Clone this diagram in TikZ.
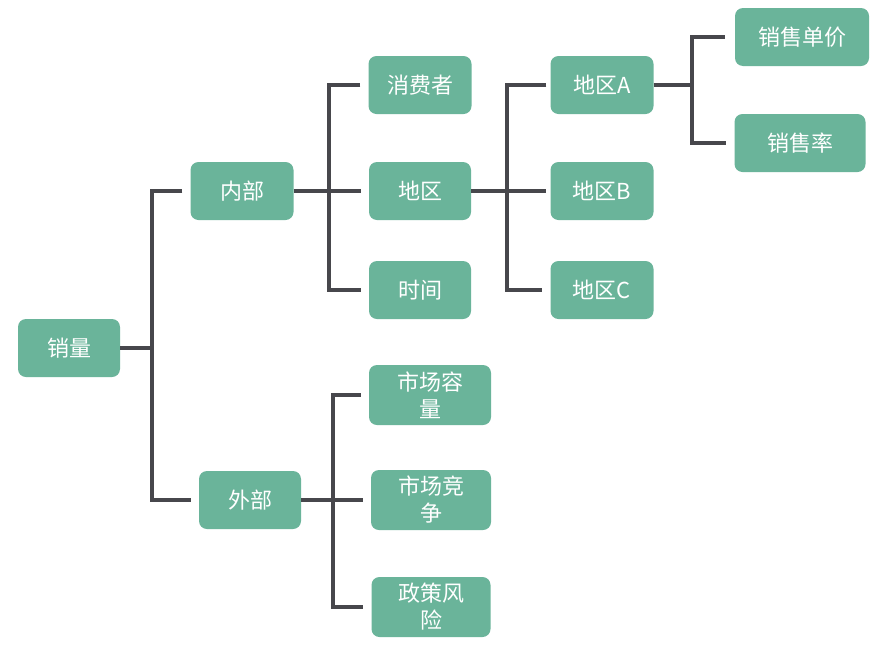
\documentclass[tikz,border=0pt]{standalone}
\usepackage{fontspec}
\newfontfamily\cjk{Noto Sans CJK SC}
\definecolor{nodegreen}{HTML}{6AB49A}
\definecolor{linegray}{HTML}{47474C}
\tikzset{
  box/.style={fill=nodegreen, rounded corners=8pt, text=white, font=\cjk\fontsize{22}{27}\selectfont,
    minimum height=58pt, inner sep=0pt, align=center},
  conn/.style={draw=linegray, line width=4pt, shorten >=8pt},
}
\begin{document}
\begin{tikzpicture}[x=1pt,y=-1pt]
\useasboundingbox[fill=white] (0,0) rectangle (887,646);
% nodes
\node[box, minimum width=102pt] (xl) at (69,348) {销量};
\node[box, minimum width=103pt] (nb) at (242,191) {内部};
\node[box, minimum width=102pt] (wb) at (250,500) {外部};
\node[box, minimum width=103pt] (xfz) at (420,85) {消费者};
\node[box, minimum width=102pt] (dq) at (420,191) {地区};
\node[box, minimum width=102pt] (sj) at (420,290) {时间};
\node[box, minimum width=122pt, minimum height=60pt] (scrl) at (430,395) {市场容\\量};
\node[box, minimum width=120pt, minimum height=60pt] (scjz) at (431,500) {市场竞\\争};
\node[box, minimum width=119pt, minimum height=60pt] (zcfx) at (431,607) {政策风\\险};
\node[box, minimum width=103pt] (dqa) at (602,85) {地区A};
\node[box, minimum width=103pt] (dqb) at (602,191) {地区B};
\node[box, minimum width=103pt] (dqc) at (602,290) {地区C};
\node[box, minimum width=134pt] (xsdj) at (802,37) {销售单价};
\node[box, minimum width=131pt] (xsl) at (800,143) {销售率};
% bus coordinates
\coordinate (b1) at (152,348);
\coordinate (b2) at (329,191);
\coordinate (b3) at (333,500);
\coordinate (b4) at (507,191);
\coordinate (b5) at (692,85);
% connectors
\draw[conn, shorten >=0pt] (xl.east) -- (b1);
\draw[conn, shorten <=8pt] (nb.west) -| (b1) |- (wb.west);
\draw[conn, shorten >=0pt] (nb.east) -- (b2);
\draw[conn, shorten <=8pt] (xfz.west) -| (b2) |- (sj.west);
\draw[conn] (b2) -- (dq.west);
\draw[conn, shorten >=0pt] (wb.east) -- (b3);
\draw[conn, shorten <=8pt] (scrl.west) -| (b3) |- (zcfx.west);
\draw[conn] (b3) -- (scjz.west);
\draw[conn, shorten >=0pt] (dq.east) -- (b4);
\draw[conn, shorten <=4pt] (dqa.west) -| (b4) |- (dqc.west);
\draw[conn, shorten >=4pt] (b4) -- (dqb.west);
\draw[conn, shorten >=0pt] (dqa.east) -- (b5);
\draw[conn, shorten <=10pt] (xsdj.west) -| (b5) |- (xsl.west);
\end{tikzpicture}
\end{document}
